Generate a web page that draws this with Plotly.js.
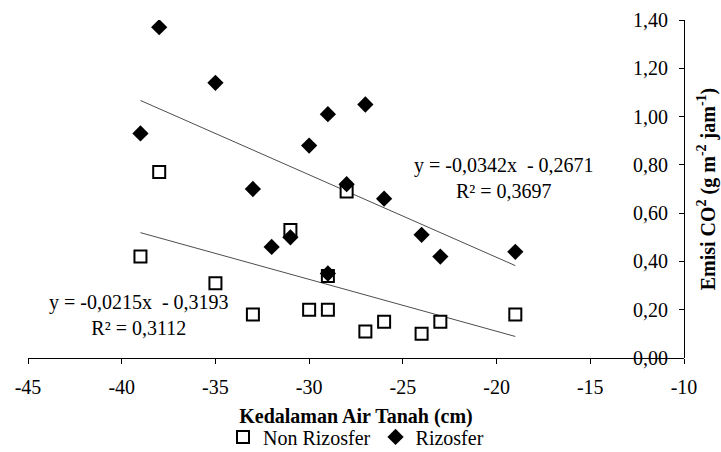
<!DOCTYPE html>
<html>
<head>
<meta charset="utf-8">
<script src="https://cdn.plot.ly/plotly-3.0.1.min.js"></script>
<style>
html,body{margin:0;padding:0;background:#fff;}
#chart{width:721px;height:452px;}
</style>
</head>
<body>
<div id="chart"></div>
<script>
// Data
const depthNon = [-39, -38, -35, -33, -31, -30, -29, -29, -28, -27, -26, -24, -23, -19];
const emisiNon = [0.42, 0.77, 0.31, 0.18, 0.53, 0.20, 0.20, 0.34, 0.69, 0.11, 0.15, 0.10, 0.15, 0.18];
const depthRiz = [-39, -38, -35, -33, -32, -31, -30, -29, -29, -28, -27, -26, -24, -23, -19];
const emisiRiz = [0.93, 1.37, 1.14, 0.70, 0.46, 0.50, 0.88, 1.01, 0.35, 0.72, 1.05, 0.66, 0.51, 0.42, 0.44];
// Trendline coefficients as printed on the chart
const slopeNon = -0.0215, interceptNon = -0.3193, r2Non = 0.3112;
const slopeRiz = -0.0342, interceptRiz = -0.2671, r2Riz = 0.3697;
const xTickVals = [-45, -40, -35, -30, -25, -20, -15, -10];
const xTickText = ["-45", "-40", "-35", "-30", "-25", "-20", "-15", "-10"];

const FONT = "Liberation Serif";
const FS = 20;
function fmt(v){ return v.toFixed(4).replace('.', ','); }
function lineXY(xs, m, b){
  const x0 = Math.min(...xs), x1 = Math.max(...xs);
  return {x:[x0, x1], y:[m*x0 + b, m*x1 + b]};
}
const tNon = lineXY(depthNon, slopeNon, interceptNon);
const tRiz = lineXY(depthRiz, slopeRiz, interceptRiz);

const traces = [
  {x:tNon.x, y:tNon.y, mode:'lines', line:{color:'#4d4d4d', width:1}, showlegend:false, hoverinfo:'skip'},
  {x:tRiz.x, y:tRiz.y, mode:'lines', line:{color:'#4d4d4d', width:1}, showlegend:false, hoverinfo:'skip'},
  {x:depthNon, y:emisiNon, name:'Non Rizosfer', mode:'markers',
   marker:{symbol:'square', size:12, color:'#ffffff', line:{color:'#000000', width:2}}},
  {x:depthRiz, y:emisiRiz, name:'Rizosfer', mode:'markers',
   marker:{symbol:'diamond', size:12.5, color:'#000000', line:{color:'#000000', width:0}}},
  // invisible helper trace so the right-hand title axis exists
  {x:[-45], y:[0], yaxis:'y2', mode:'markers', marker:{opacity:0}, showlegend:false, hoverinfo:'skip'}
];

const layout = {
  width:721, height:452,
  margin:{l:28, r:37, t:20, b:94, autoexpand:false},
  paper_bgcolor:'#ffffff', plot_bgcolor:'#ffffff',
  separators:',.',
  font:{family:FONT, size:FS, color:'#000000'},
  xaxis:{
    range:[-45, -10], tickvals:xTickVals, ticktext:xTickText,
    showgrid:false, zeroline:false, showline:true, linecolor:'#000', linewidth:1,
    ticks:'outside', ticklen:5, tickcolor:'#000', ticklabelstandoff:6,
    tickfont:{family:FONT, size:FS, color:'#000'},
    title:{text:'<b>Kedalaman Air Tanah (cm)</b>', font:{family:FONT, size:FS, color:'#000'}, standoff:11}
  },
  yaxis:{
    range:[0, 1.4], dtick:0.2, tickformat:'.2f',
    anchor:'free', position:1, side:'left',
    ticks:'outside', ticklen:5, tickcolor:'#000', ticklabelstandoff:7,
    showgrid:false, zeroline:false, showline:true, linecolor:'#000', linewidth:1,
    tickfont:{family:FONT, size:FS, color:'#000'}
  },
  yaxis2:{
    range:[0, 1.4], overlaying:'y', side:'right', anchor:'x',
    showgrid:false, zeroline:false, showline:false, showticklabels:false, ticks:'',
    title:{text:'<b>Emisi CO<sup>2</sup> (g m<sup>-2</sup> jam<sup>-1</sup>)</b>', font:{family:FONT, size:FS, color:'#000'}, standoff:16}
  },
  showlegend:true,
  legend:{orientation:'h', x:0.5, xanchor:'center', y:-0.2337, yanchor:'middle',
    font:{family:FONT, size:FS, color:'#000'}, itemwidth:30, bgcolor:'rgba(0,0,0,0)'},
  annotations:[
    {x:-39.1, y:0.177, xref:'x', yref:'y', showarrow:false, align:'center',
     text:'y = -' + fmt(-slopeNon) + 'x  - ' + fmt(-interceptNon) + '<br>R² = ' + fmt(r2Non),
     font:{family:FONT, size:FS, color:'#000'}},
    {x:-19.6, y:0.745, xref:'x', yref:'y', showarrow:false, align:'center',
     text:'y = -' + fmt(-slopeRiz) + 'x  - ' + fmt(-interceptRiz) + '<br>R² = ' + fmt(r2Riz),
     font:{family:FONT, size:FS, color:'#000'}}
  ]
};
Plotly.newPlot('chart', traces, layout, {displayModeBar:false, staticPlot:true});
</script>
</body>
</html>
